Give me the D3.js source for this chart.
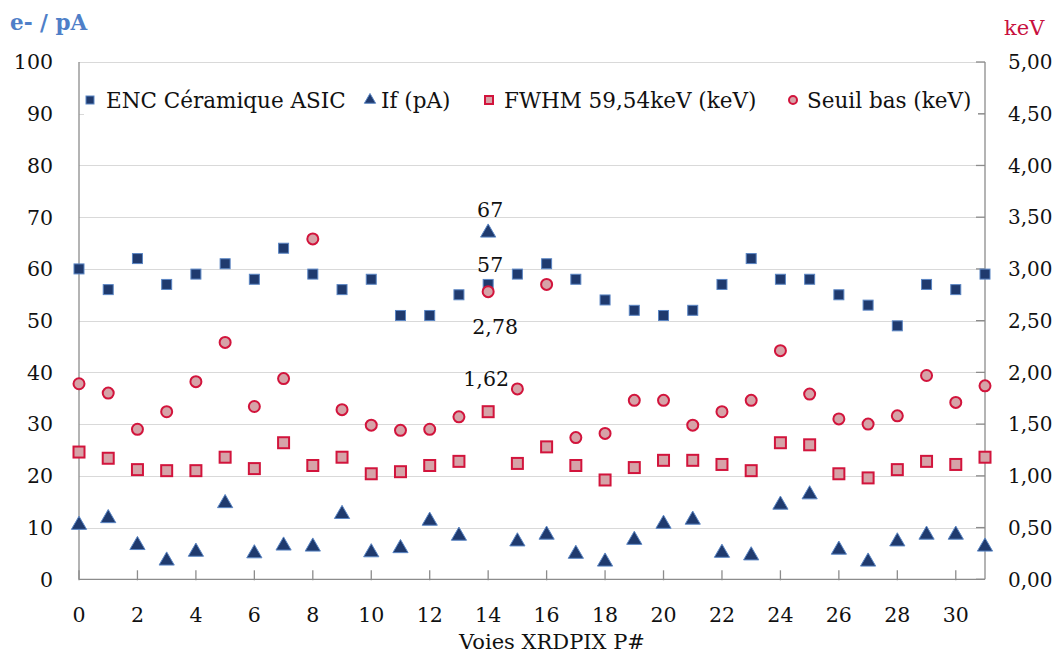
<!DOCTYPE html>
<html>
<head>
<meta charset="utf-8">
<script src="https://cdn.jsdelivr.net/npm/d3@7"></script>
<style>
  html, body { margin: 0; padding: 0; background: #ffffff; }
  svg { display: block; }
  text { font-family: "DejaVu Serif", serif; }
</style>
</head>
<body>
<svg id="chart" width="1063" height="655"></svg>
<script>
// ---- data ----
const channels = [0,1,2,3,4,5,6,7,8,9,10,11,12,13,14,15,16,17,18,19,20,21,22,23,24,25,26,27,28,29,30,31];
const encValues = [60,56,62,57,59,61,58,64,59,56,58,51,51,55,57,59,61,58,54,52,51,52,57,62,58,58,55,53,49,57,56,59];
const ifValues = [10.5,11.8,6.6,3.6,5.3,14.7,5.0,6.5,6.3,12.6,5.2,6.0,11.3,8.4,67,7.3,8.6,4.9,3.4,7.6,10.7,11.5,5.1,4.6,14.4,16.4,5.7,3.4,7.3,8.6,8.6,6.3];
const fwhmValues = [1.23,1.17,1.06,1.05,1.05,1.18,1.07,1.32,1.10,1.18,1.02,1.04,1.10,1.14,1.62,1.12,1.28,1.10,0.96,1.08,1.15,1.15,1.11,1.05,1.32,1.30,1.02,0.98,1.06,1.14,1.11,1.18];
const seuilValues = [1.89,1.80,1.45,1.62,1.91,2.29,1.67,1.94,3.29,1.64,1.49,1.44,1.45,1.57,2.78,1.84,2.85,1.37,1.41,1.73,1.73,1.49,1.62,1.73,2.21,1.79,1.55,1.50,1.58,1.97,1.71,1.87];
const leftTicks = [0,10,20,30,40,50,60,70,80,90,100];
const rightTicks = [0,0.5,1,1.5,2,2.5,3,3.5,4,4.5,5];
const xTicks = [0,2,4,6,8,10,12,14,16,18,20,22,24,26,28,30];
const seriesNames = ["ENC Céramique ASIC", "If (pA)", "FWHM 59,54keV (keV)", "Seuil bas (keV)"];
const leftTitle = "e- / pA";
const rightTitle = "keV";
const xTitle = "Voies XRDPIX P#";
const pointLabels = ["67", "57", "2,78", "1,62"];   // channel 14 labels: If, ENC, Seuil, FWHM

// ---- layout ----
const svg = d3.select("#chart");
const L = 79, R = 985, T = 62, B = 579.3;
const x = d3.scaleLinear().domain([0, 31]).range([L, R]);
const yL = d3.scaleLinear().domain([0, 100]).range([B, T]);
const yR = d3.scaleLinear().domain([0, 5]).range([B, T]);
const fmtR = v => d3.format(".2f")(v).replace(".", ",");

const navy = "#1f3a6e", navyEdge = "#5b86c4";
const red = "#d2143c", pinkFill = "#d6a3a8";
const gridCol = "#d9d9d9", axisCol = "#8c8c8c", textCol = "#111111";

svg.append("rect").attr("width", 1063).attr("height", 655).attr("fill", "#fff");

// gridlines
svg.append("g").selectAll("line").data(leftTicks.filter(d => d > 0)).join("line")
  .attr("x1", L).attr("x2", R)
  .attr("y1", d => Math.round(yL(d)) + 0.5).attr("y2", d => Math.round(yL(d)) + 0.5)
  .attr("stroke", gridCol).attr("stroke-width", 1.2);

// axes lines
const axG = svg.append("g").attr("stroke", axisCol).attr("stroke-width", 1.3);
axG.append("line").attr("x1", L).attr("x2", L).attr("y1", T).attr("y2", B);
axG.append("line").attr("x1", R).attr("x2", R).attr("y1", T).attr("y2", B);
axG.append("line").attr("x1", L).attr("x2", R).attr("y1", B).attr("y2", B);

// x ticks (inward)
svg.append("g").selectAll("line").data(xTicks).join("line")
  .attr("x1", d => x(d)).attr("x2", d => x(d))
  .attr("y1", B - 9).attr("y2", B + 1)
  .attr("stroke", axisCol).attr("stroke-width", 1.3);
// right ticks (inward)
svg.append("g").selectAll("line").data(rightTicks).join("line")
  .attr("x1", R - 9).attr("x2", R)
  .attr("y1", d => yR(d)).attr("y2", d => yR(d))
  .attr("stroke", axisCol).attr("stroke-width", 1.3);

// tick labels
svg.append("g").selectAll("text").data(leftTicks).join("text")
  .attr("x", 53).attr("y", d => yL(d)).attr("dy", "0.36em")
  .attr("text-anchor", "end").attr("font-size", 20.5).attr("fill", textCol)
  .text(d => d);
svg.append("g").selectAll("text").data(rightTicks).join("text")
  .attr("x", 1008).attr("y", d => yR(d)).attr("dy", "0.36em")
  .attr("text-anchor", "start").attr("font-size", 20).attr("fill", textCol)
  .text(d => fmtR(d));
svg.append("g").selectAll("text").data(xTicks).join("text")
  .attr("x", d => x(d)).attr("y", 622)
  .attr("text-anchor", "middle").attr("font-size", 20.5).attr("fill", textCol)
  .text(d => d);

// titles
svg.append("text").attr("x", 10).attr("y", 30).attr("font-size", 21.5).attr("font-weight", "bold")
  .attr("fill", "#4f7fc8").text(leftTitle);
svg.append("text").attr("x", 1004).attr("y", 35).attr("font-size", 21)
  .attr("fill", "#c8103e").text(rightTitle);
svg.append("text").attr("x", 552).attr("y", 649).attr("text-anchor", "middle").attr("font-size", 21)
  .attr("fill", textCol).text(xTitle);

// ---- markers ----
const triangle = d3.symbol().type(d3.symbolTriangle).size(100);
const g = svg.append("g");
// If triangles
g.selectAll("path.if").data(channels).join("path").attr("class", "if")
  .attr("d", triangle)
  .attr("transform", (d, i) => `translate(${x(d)},${yL(ifValues[i])})`)
  .attr("fill", navy).attr("stroke", navyEdge).attr("stroke-width", 1);
// FWHM squares
g.selectAll("rect.fwhm").data(channels).join("rect").attr("class", "fwhm")
  .attr("x", d => x(d) - 5.5).attr("y", (d, i) => yR(fwhmValues[i]) - 5.5)
  .attr("width", 11).attr("height", 11)
  .attr("fill", pinkFill).attr("stroke", red).attr("stroke-width", 2);
// ENC squares
g.selectAll("rect.enc").data(channels).join("rect").attr("class", "enc")
  .attr("x", d => x(d) - 5).attr("y", (d, i) => yL(encValues[i]) - 5)
  .attr("width", 10).attr("height", 10)
  .attr("fill", navy).attr("stroke", navyEdge).attr("stroke-width", 1);
// Seuil circles
g.selectAll("circle.seuil").data(channels).join("circle").attr("class", "seuil")
  .attr("cx", d => x(d)).attr("cy", (d, i) => yR(seuilValues[i]))
  .attr("r", 5.5)
  .attr("fill", pinkFill).attr("stroke", red).attr("stroke-width", 2);

// ---- point labels at channel 14 ----
const ix = channels.indexOf(14);
const lbl = [
  { t: pointLabels[0], px: x(14) + 2, py: yL(ifValues[ix]) - 16 },
  { t: pointLabels[1], px: x(14) + 2, py: yL(encValues[ix]) - 12 },
  { t: pointLabels[2], px: x(14) + 7, py: yR(seuilValues[ix]) + 42 },
  { t: pointLabels[3], px: x(14) - 2, py: yR(fwhmValues[ix]) - 26 }
];
svg.append("g").selectAll("text").data(lbl).join("text")
  .attr("x", d => d.px).attr("y", d => d.py)
  .attr("text-anchor", "middle").attr("font-size", 20.5).attr("fill", textCol)
  .text(d => d.t);

// ---- legend ----
const lg = svg.append("g");
lg.append("rect").attr("x", 84).attr("y", 84).attr("width", 894).attr("height", 33).attr("fill", "#fff");
const legY = 100;
const legItems = [
  { name: seriesNames[0], mx: 90, tx: 106, kind: "enc" },
  { name: seriesNames[1], mx: 370, tx: 381, kind: "if" },
  { name: seriesNames[2], mx: 489, tx: 504, kind: "fwhm" },
  { name: seriesNames[3], mx: 793, tx: 807, kind: "seuil" }
];
legItems.forEach(it => {
  if (it.kind === "enc") {
    lg.append("rect").attr("x", it.mx - 4).attr("y", legY - 4).attr("width", 8).attr("height", 8)
      .attr("fill", navy).attr("stroke", navyEdge).attr("stroke-width", 1);
  } else if (it.kind === "if") {
    lg.append("path").attr("d", d3.symbol().type(d3.symbolTriangle).size(55))
      .attr("transform", `translate(${it.mx},${legY})`)
      .attr("fill", navy).attr("stroke", navyEdge).attr("stroke-width", 1);
  } else if (it.kind === "fwhm") {
    lg.append("rect").attr("x", it.mx - 4).attr("y", legY - 4).attr("width", 8).attr("height", 8)
      .attr("fill", pinkFill).attr("stroke", red).attr("stroke-width", 2);
  } else {
    lg.append("circle").attr("cx", it.mx).attr("cy", legY).attr("r", 4)
      .attr("fill", pinkFill).attr("stroke", red).attr("stroke-width", 2);
  }
  lg.append("text").attr("x", it.tx).attr("y", legY).attr("dy", "0.36em")
    .attr("font-size", 21.5).attr("fill", textCol).text(it.name);
});
</script>
</body>
</html>
